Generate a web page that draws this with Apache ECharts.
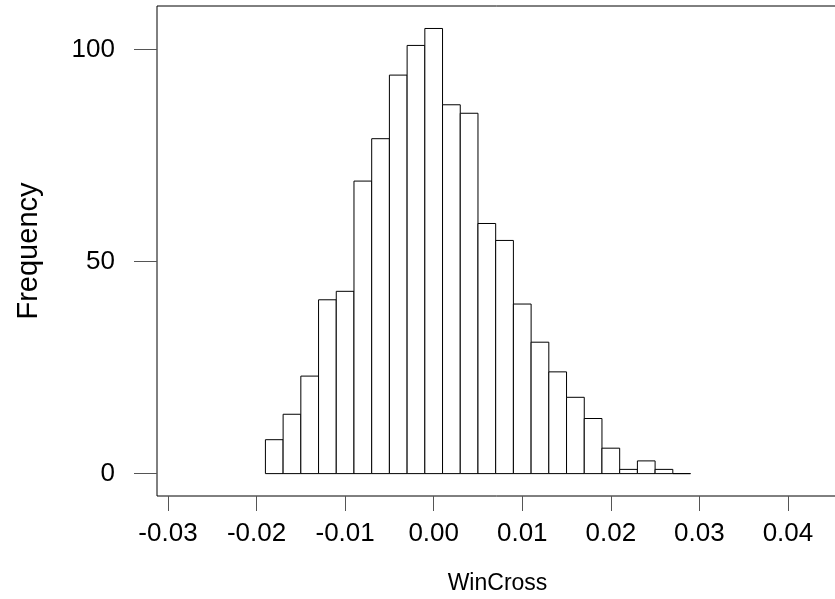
<!DOCTYPE html>
<html><head><meta charset="utf-8">
<script src="https://cdn.jsdelivr.net/npm/echarts@6/dist/echarts.min.js"></script>
<style>html,body{margin:0;background:#fff}#c{width:835px;height:599px}</style>
</head><body><div id="c"></div>
<script>
const binStart = -0.019, binWidth = 0.002;
const counts = [8,14,23,41,43,69,79,94,101,105,87,85,59,55,40,31,24,18,13,6,1,3,1,0];
const xTicks = [-0.03,-0.02,-0.01,0,0.01,0.02,0.03,0.04];
const yTicks = [0,50,100];
const data = counts.map((c,i)=>[binStart+i*binWidth, binStart+(i+1)*binWidth, c]);
const font = 'Liberation Sans, Arial, sans-serif';
const chart = echarts.init(document.getElementById('c'));
chart.setOption({
  animation:false,
  grid:{left:157,right:-3,top:6,bottom:103,show:true,borderColor:'#000',borderWidth:1,outerBoundsMode:'none',containLabel:false},
  xAxis:{type:'value',min:-0.03124,max:0.04565,name:'WinCross',nameLocation:'middle',nameGap:76,
    nameTextStyle:{fontFamily:font,fontSize:23,color:'#000'},
    axisLine:{show:false,onZero:false},splitLine:{show:false},
    axisTick:{show:true,length:15,lineStyle:{color:'#555'},customValues:xTicks},
    axisLabel:{customValues:xTicks,margin:25,fontFamily:font,fontSize:26,color:'#000',
      formatter:v=>v.toFixed(2)}},
  yAxis:{type:'value',min:-5.28,max:110.3,name:'Frequency',nameLocation:'middle',nameGap:114,
    nameTextStyle:{fontFamily:font,fontSize:29,color:'#000'},
    axisLine:{show:false,onZero:false},splitLine:{show:false},
    axisTick:{show:true,length:23,lineStyle:{color:'#555'},customValues:yTicks},
    axisLabel:{customValues:yTicks,margin:42,fontFamily:font,fontSize:26,color:'#000'}},
  series:[{type:'custom',data:data,encode:{x:[0,1],y:2},
    renderItem:(params,api)=>{
      const p0=api.coord([api.value(0),0]), p1=api.coord([api.value(1),api.value(2)]);
      return {type:'rect',shape:{x:p0[0],y:p1[1],width:p1[0]-p0[0],height:p0[1]-p1[1]},
        style:{fill:'#fff',stroke:'#000',lineWidth:1}};
    }}]
});
</script></body></html>
